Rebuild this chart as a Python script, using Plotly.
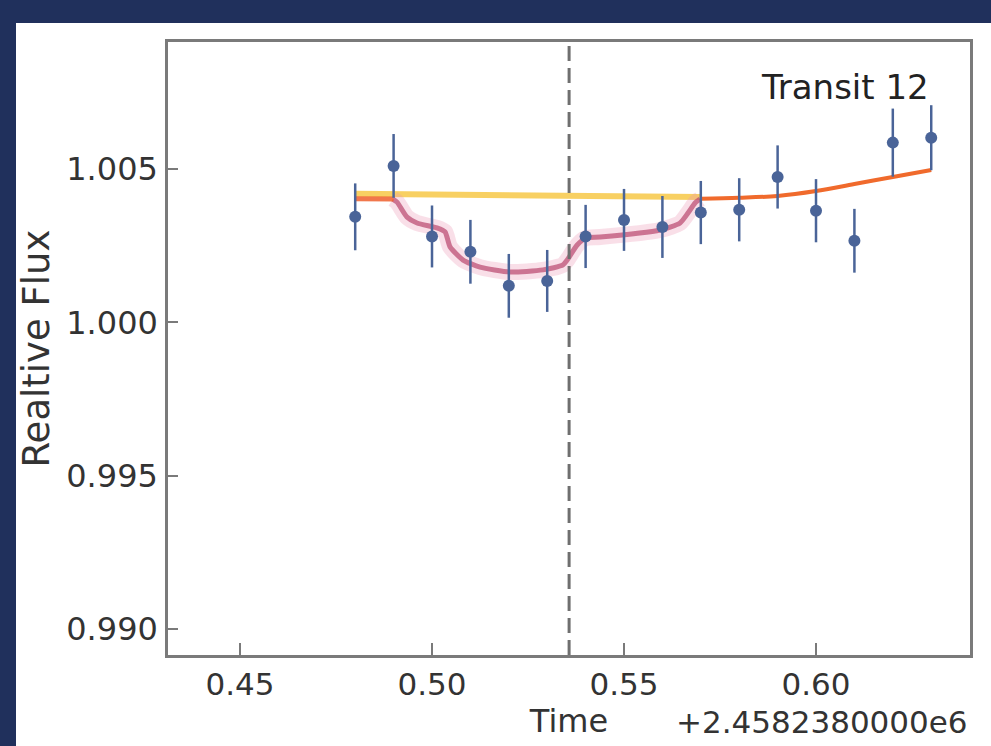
import plotly.graph_objects as go

# ---- data (time offsets from 2458238.0) ----
time = [0.48, 0.49, 0.50, 0.51, 0.52, 0.53, 0.54, 0.55,
        0.56, 0.57, 0.58, 0.59, 0.60, 0.61, 0.62, 0.63]
flux = [1.00344, 1.00510, 1.00280, 1.00230, 1.00119, 1.00135, 1.00280, 1.00334,
        1.00311, 1.00358, 1.00367, 1.00474, 1.00364, 1.00266, 1.00586, 1.00602]
flux_err = [0.00109, 0.00104, 0.00101, 0.00104, 0.00104, 0.00101, 0.00103, 0.00101,
            0.00101, 0.00103, 0.00103, 0.00103, 0.00103, 0.00104, 0.00111, 0.00106]

transit_time = [0.4898, 0.4909, 0.4935, 0.4961, 0.5013, 0.5034, 0.5047, 0.5081,
                0.5125, 0.5203, 0.5289, 0.5341, 0.5352, 0.5378, 0.5401, 0.5438,
                0.5594, 0.5646, 0.5667, 0.5685, 0.5698]
transit_flux = [1.00402, 1.00392, 1.00343, 1.00324, 1.00308, 1.00295, 1.00246, 1.00203,
                1.00180, 1.00164, 1.00171, 1.00187, 1.00203, 1.00252, 1.00275, 1.00278,
                1.00301, 1.00324, 1.00357, 1.00389, 1.00402]

trend_start_time = [0.48, 0.49]
trend_start_flux = [1.00403, 1.00402]
trend_time = [0.57, 0.58, 0.59, 0.60, 0.61, 0.62, 0.63]
trend_flux = [1.00403, 1.00406, 1.00412, 1.00428, 1.00451, 1.00474, 1.00497]

flat_time = [0.48, 0.57]
flat_flux = [1.00419, 1.00409]

mid_transit = 0.5357
x_ticks = [0.45, 0.50, 0.55, 0.60]
y_ticks = [0.990, 0.995, 1.000, 1.005]
x_range = [0.43125, 0.6401]
y_range = [0.989152, 1.009141]

NAVY = "#20305c"
AXIS_GRAY = "#7a7a7a"
TXT = "#333333"
PT = "#4a6498"

fig = go.Figure()

# yellow flat model
fig.add_trace(go.Scatter(x=flat_time, y=flat_flux, mode="lines",
                         line=dict(color="rgba(247,200,70,0.85)", width=6),
                         hoverinfo="skip", showlegend=False))
# transit model halo + core
fig.add_trace(go.Scatter(x=transit_time, y=transit_flux, mode="lines",
                         line=dict(color="rgba(235,150,180,0.3)", width=16,
                                   shape="spline", smoothing=0.6),
                         hoverinfo="skip", showlegend=False))
fig.add_trace(go.Scatter(x=transit_time, y=transit_flux, mode="lines",
                         line=dict(color="rgba(185,70,110,0.7)", width=5,
                                   shape="spline", smoothing=0.6),
                         hoverinfo="skip", showlegend=False))
# orange trend
fig.add_trace(go.Scatter(x=trend_start_time, y=trend_start_flux, mode="lines",
                         line=dict(color="rgba(238,95,45,0.85)", width=5),
                         hoverinfo="skip", showlegend=False))
fig.add_trace(go.Scatter(x=trend_time, y=trend_flux, mode="lines",
                         line=dict(color="#f06a2c", width=4, shape="spline"),
                         hoverinfo="skip", showlegend=False))
# data points
fig.add_trace(go.Scatter(x=time, y=flux, mode="markers",
                         marker=dict(color=PT, size=12),
                         error_y=dict(type="data", array=flux_err, color=PT,
                                      thickness=2.5, width=0),
                         showlegend=False))

shapes = [
    # navy frame: top band and left band
    dict(type="rect", xref="paper", yref="paper",
         x0=-168/802, x1=(991-168)/802, y0=1 + (42-23)/613, y1=1 + 42/613,
         fillcolor=NAVY, line=dict(width=0), layer="below"),
    dict(type="rect", xref="paper", yref="paper",
         x0=-168/802, x1=-(168-16)/802, y0=-91/613, y1=1 + 42/613,
         fillcolor=NAVY, line=dict(width=0), layer="below"),
    # mid-transit dashed line
    dict(type="line", xref="x", yref="paper", x0=mid_transit, x1=mid_transit,
         y0=0, y1=1, line=dict(color="#6f6f6f", width=3, dash="15px,7px")),
]

fig.update_layout(
    width=991, height=746,
    margin=dict(l=168, r=21, t=42, b=91),
    paper_bgcolor="white", plot_bgcolor="white",
    font=dict(family="DejaVu Sans", color=TXT, size=30),
    shapes=shapes,
    annotations=[
        dict(text="Transit 12", xref="paper", yref="paper",
             x=(931-168)/802, y=(655-87)/613, xanchor="right", yanchor="middle",
             showarrow=False, font=dict(size=34, color="#222222")),
        dict(text="+2.4582380000e6", xref="paper", yref="paper",
             x=(970-168)/802, y=-(722-655)/613, xanchor="right", yanchor="middle",
             showarrow=False, font=dict(size=31, color=TXT)),
    ],
)

fig.update_xaxes(range=x_range, tickvals=x_ticks, ticktext=[f"{v:.2f}" for v in x_ticks],
                 showgrid=False, zeroline=False, showline=True, mirror=True,
                 linecolor=AXIS_GRAY, linewidth=2.5,
                 ticks="inside", ticklen=12, tickwidth=1.5, tickcolor=AXIS_GRAY,
                 tickfont=dict(size=31, color=TXT),
                 title=dict(text="Time", font=dict(size=32, color=TXT), standoff=6))
fig.update_yaxes(range=y_range, tickvals=y_ticks, ticktext=[f"{v:.3f}" for v in y_ticks],
                 showgrid=False, zeroline=False, showline=True, mirror=True,
                 linecolor=AXIS_GRAY, linewidth=2.5,
                 ticks="inside", ticklen=10, tickwidth=1.5, tickcolor=AXIS_GRAY,
                 ticklabelstandoff=1,
                 tickfont=dict(size=32, color=TXT),
                 title=dict(text="Realtive Flux", font=dict(size=37, color=TXT), standoff=6))

fig.write_html("out.html", config={"displayModeBar": False},
               post_script="document.body.style.margin='0';")
